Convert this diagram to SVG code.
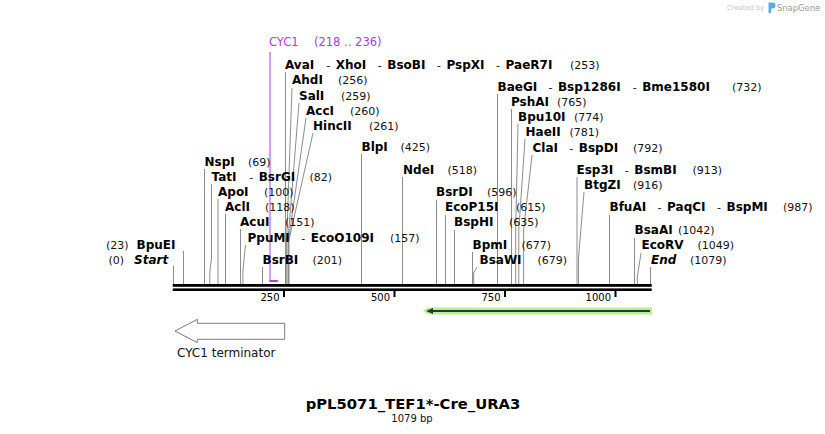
<svg xmlns="http://www.w3.org/2000/svg" width="825" height="434" viewBox="0 0 825 434">
<style>
text{font-family:"DejaVu Sans",Verdana,sans-serif;}
.n{font-size:12px;font-weight:bold;fill:#000;}
.p{font-size:11px;fill:#111;}
.e{font-size:12px;font-weight:bold;font-style:italic;fill:#000;}
.ln{stroke:#8c8c8c;stroke-width:1;fill:none;}
.tk{stroke:#000;stroke-width:2;}
.tl{font-size:10px;fill:#000;text-anchor:end;}
.pu{fill:#a640ee;font-size:11.5px;}
</style>
<rect width="825" height="434" fill="#fff"/>

<!-- watermark -->
<g id="watermark">
<text x="727" y="10" font-size="6.8" fill="#c4c4c4">Created by</text>
<path d="M768.5,2.5 h4 a3,3 0 0 1 0,6 h-1.5 v4.5 h-2.5 z" fill="#5aaae8"/>
<text x="777" y="10.5" font-size="8.4" fill="#9a9a9a">SnapGene</text>
</g>

<!-- connectors -->
<g id="connectors">
<line class="ln" x1="173.5" y1="265.5" x2="173.5" y2="284"/>
<line class="ln" x1="183.5" y1="251" x2="183.5" y2="284"/>
<line class="ln" x1="204.5" y1="169" x2="204.5" y2="284"/>
<polyline class="ln" points="211.5,184 211.5,258 209.8,272 209.8,284"/>
<line class="ln" x1="218" y1="199" x2="218" y2="284"/>
<line class="ln" x1="225.5" y1="214" x2="225.5" y2="284"/>
<line class="ln" x1="240.5" y1="229" x2="240.5" y2="284"/>
<polyline class="ln" points="245.5,245 242.9,271 242.9,284"/>
<line class="ln" x1="262.5" y1="267" x2="262.5" y2="284"/>
<line class="ln" x1="285.5" y1="72" x2="285.5" y2="284"/>
<polyline class="ln" points="292,88 286.7,240 286.7,284"/>
<polyline class="ln" points="299,103 288,240 288,284"/>
<polyline class="ln" points="306,118 288.5,240 288.5,284"/>
<polyline class="ln" points="313,133 289,240 289,284"/>
<line class="ln" x1="361.5" y1="154" x2="361.5" y2="284"/>
<line class="ln" x1="402.5" y1="177" x2="402.5" y2="284"/>
<line class="ln" x1="436.5" y1="200" x2="436.5" y2="284"/>
<line class="ln" x1="445.5" y1="215" x2="445.5" y2="284"/>
<line class="ln" x1="454.5" y1="230" x2="454.5" y2="284"/>
<line class="ln" x1="472.5" y1="252" x2="472.5" y2="284"/>
<polyline class="ln" points="477,267 473.7,273 473.7,284"/>
<line class="ln" x1="497.5" y1="94" x2="497.5" y2="284"/>
<line class="ln" x1="511.5" y1="109" x2="511.5" y2="284"/>
<polyline class="ln" points="518,124 515.7,230 515.7,284"/>
<polyline class="ln" points="525,139 518.8,230 518.8,284"/>
<polyline class="ln" points="532,155 523.6,230 523.6,284"/>
<line class="ln" x1="577" y1="177" x2="577" y2="284"/>
<polyline class="ln" points="584,192 578.5,258 578.5,284"/>
<line class="ln" x1="609.5" y1="215" x2="609.5" y2="284"/>
<line class="ln" x1="634.5" y1="238" x2="634.5" y2="284"/>
<polyline class="ln" points="641,253 637.3,277 637.3,284"/>
<line class="ln" x1="650.5" y1="267" x2="650.5" y2="284"/>
<!-- CYC1 feature marker -->
<polyline points="270,52 270,281 277.8,281" fill="none" stroke="#a640ee" stroke-width="1"/>
<line x1="269.5" y1="281" x2="277.8" y2="281" stroke="#a640ee" stroke-width="2"/>
</g>

<!-- backbone and ruler -->
<g id="backbone">
<rect x="172.7" y="284" width="479" height="2.8" fill="#000"/>
<rect x="172.7" y="288.4" width="479" height="2.6" fill="#000"/>
<line class="tk" x1="284" y1="289" x2="284" y2="297"/>
<line class="tk" x1="394.5" y1="289" x2="394.5" y2="297"/>
<line class="tk" x1="505" y1="289" x2="505" y2="297"/>
<line class="tk" x1="615.5" y1="289" x2="615.5" y2="297"/>
<text class="tl" x="279.5" y="301">250</text>
<text class="tl" x="390" y="301">500</text>
<text class="tl" x="500.5" y="301">750</text>
<text class="tl" x="611" y="301">1000</text>
</g>

<!-- labels -->
<g id="CYC1"><text class="pu" x="269" y="46">CYC1</text><text class="pu" x="314" y="46">(218 .. 236)</text></g>
<g id="AvaI"><text class="n" x="285" y="68.5">AvaI</text><text class="p" x="326.2" y="68.5">-</text><text class="n" x="335.7" y="68.5">XhoI</text><text class="p" x="377.8" y="68.5">-</text><text class="n" x="387.3" y="68.5">BsoBI</text><text class="p" x="437" y="68.5">-</text><text class="n" x="446.5" y="68.5">PspXI</text><text class="p" x="496.1" y="68.5">-</text><text class="n" x="505.6" y="68.5">PaeR7I</text><text class="p" x="570" y="68.5">(253)</text></g>
<g id="AhdI"><text class="n" x="292" y="84">AhdI</text><text class="p" x="338" y="84">(256)</text></g>
<g id="SalI"><text class="n" x="299" y="99.5">SalI</text><text class="p" x="341" y="99.5">(259)</text></g>
<g id="AccI"><text class="n" x="306" y="114.5">AccI</text><text class="p" x="350" y="114.5">(260)</text></g>
<g id="HincII"><text class="n" x="313" y="129.5">HincII</text><text class="p" x="369" y="129.5">(261)</text></g>
<g id="BlpI"><text class="n" x="361.5" y="151">BlpI</text><text class="p" x="400.5" y="151">(425)</text></g>
<g id="NspI"><text class="n" x="204.5" y="166">NspI</text><text class="p" x="248" y="166">(69)</text></g>
<g id="TatI"><text class="n" x="211.5" y="181">TatI</text><text class="p" x="249.2" y="181">-</text><text class="n" x="258.7" y="181">BsrGI</text><text class="p" x="309.5" y="181">(82)</text></g>
<g id="ApoI"><text class="n" x="218" y="196">ApoI</text><text class="p" x="264" y="196">(100)</text></g>
<g id="AclI"><text class="n" x="225" y="211">AclI</text><text class="p" x="265" y="211">(118)</text></g>
<g id="AcuI"><text class="n" x="240" y="226">AcuI</text><text class="p" x="285" y="226">(151)</text></g>
<g id="PpuMI"><text class="n" x="247.5" y="241.5">PpuMI</text><text class="p" x="301.2" y="241.5">-</text><text class="n" x="310.7" y="241.5">EcoO109I</text><text class="p" x="390" y="241.5">(157)</text></g>
<g id="BpuEI"><text class="p" x="106" y="248.5">(23)</text><text class="n" x="136.5" y="248.5">BpuEI</text></g>
<g id="Start"><text class="p" x="108.5" y="263.5">(0)</text><text class="e" x="134" y="263.5">Start</text></g>
<g id="BsrBI"><text class="n" x="262.5" y="263.5">BsrBI</text><text class="p" x="312.5" y="263.5">(201)</text></g>
<g id="NdeI"><text class="n" x="403" y="173.5">NdeI</text><text class="p" x="447.5" y="173.5">(518)</text></g>
<g id="BsrDI"><text class="n" x="436" y="196">BsrDI</text><text class="p" x="487" y="196">(596)</text></g>
<g id="EcoP15I"><text class="n" x="445" y="211">EcoP15I</text><text class="p" x="516" y="211">(615)</text></g>
<g id="BspHI"><text class="n" x="454" y="226">BspHI</text><text class="p" x="509" y="226">(635)</text></g>
<g id="BpmI"><text class="n" x="472.5" y="248.5">BpmI</text><text class="p" x="521.5" y="248.5">(677)</text></g>
<g id="BsaWI"><text class="n" x="479.5" y="263.5">BsaWI</text><text class="p" x="537.5" y="263.5">(679)</text></g>
<g id="BaeGI"><text class="n" x="497.5" y="91">BaeGI</text><text class="p" x="548.4" y="91">-</text><text class="n" x="557.9" y="91">Bsp1286I</text><text class="p" x="632.7" y="91">-</text><text class="n" x="642.2" y="91">Bme1580I</text><text class="p" x="732" y="91">(732)</text></g>
<g id="PshAI"><text class="n" x="511" y="106">PshAI</text><text class="p" x="557" y="106">(765)</text></g>
<g id="Bpu10I"><text class="n" x="518" y="121">Bpu10I</text><text class="p" x="574" y="121">(774)</text></g>
<g id="HaeII"><text class="n" x="525.5" y="136">HaeII</text><text class="p" x="569.5" y="136">(781)</text></g>
<g id="ClaI"><text class="n" x="532.5" y="151.5">ClaI</text><text class="p" x="569.3" y="151.5">-</text><text class="n" x="578.8" y="151.5">BspDI</text><text class="p" x="633" y="151.5">(792)</text></g>
<g id="Esp3I"><text class="n" x="576.5" y="173.5">Esp3I</text><text class="p" x="624.8" y="173.5">-</text><text class="n" x="634.3" y="173.5">BsmBI</text><text class="p" x="692.5" y="173.5">(913)</text></g>
<g id="BtgZI"><text class="n" x="584" y="188.5">BtgZI</text><text class="p" x="633" y="188.5">(916)</text></g>
<g id="BfuAI"><text class="n" x="609.5" y="211">BfuAI</text><text class="p" x="657.6" y="211">-</text><text class="n" x="667.1" y="211">PaqCI</text><text class="p" x="717" y="211">-</text><text class="n" x="726.5" y="211">BspMI</text><text class="p" x="783" y="211">(987)</text></g>
<g id="BsaAI"><text class="n" x="634.5" y="234">BsaAI</text><text class="p" x="678" y="234">(1042)</text></g>
<g id="EcoRV"><text class="n" x="641.5" y="249">EcoRV</text><text class="p" x="697.5" y="249">(1049)</text></g>
<g id="End"><text class="e" x="651" y="263.5">End</text><text class="p" x="690" y="263.5">(1079)</text></g>

<!-- features -->
<g id="green-feature">
<polygon points="423,311 428,307.5 652,307.5 652,314.5 428,314.5" fill="#b8f08e"/>
<line x1="431" y1="311" x2="650" y2="311" stroke="#2a3a2a" stroke-width="2"/>
<polygon points="426,311 433,308 433,314" fill="#2a3a2a"/>
</g>
<g id="CYC1-terminator">
<polygon points="175,331 197.3,319.3 197.3,323.3 284.7,323.3 284.7,339.3 197.3,339.3 197.3,342.7" fill="#fff" stroke="#7a7a7a" stroke-width="1"/>
<text x="177" y="356.5" font-size="12" fill="#111">CYC1 terminator</text>
</g>

<g id="title">
<text x="413" y="409" font-size="14.8" font-weight="bold" text-anchor="middle" fill="#000">pPL5071_TEF1*-Cre_URA3</text>
<text x="412" y="421.5" font-size="10" text-anchor="middle" fill="#111">1079 bp</text>
</g>
</svg>
